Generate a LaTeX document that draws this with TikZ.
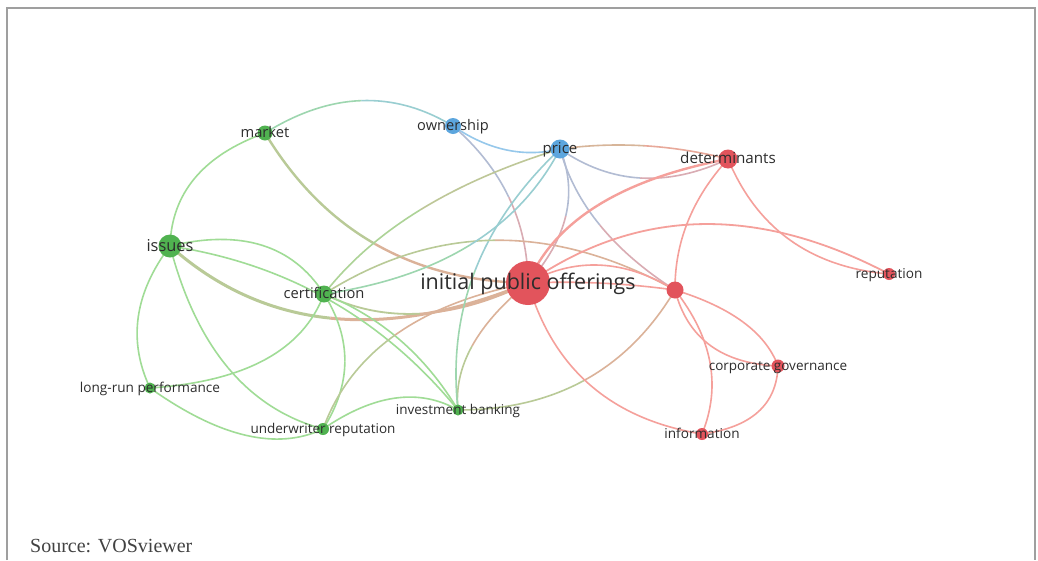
\documentclass[tikz,border=0pt]{standalone}
\usepackage{fontspec}
\setmainfont{Open Sans}
\newfontfamily\srcfont{Liberation Serif}
\usetikzlibrary{calc}
\definecolor{gL}{RGB}{160,220,150}
\definecolor{rL}{RGB}{245,160,155}
\definecolor{bL}{RGB}{150,200,235}
\colorlet{oL}{gL!50!rL}
\definecolor{gN}{RGB}{80,178,80}
\definecolor{rN}{RGB}{226,84,92}
\definecolor{bN}{RGB}{92,166,222}
\definecolor{txt}{RGB}{45,45,45}
\newcommand\fsz[1]{\fontsize{#1}{#1}\selectfont}
% link: [width]{a}{b}{shape point x,y}{colour at a}{colour at b}
% drawn as a quadratic curve, split in two halves for a colour change
\newcommand\lnk[6][1.6]{%
  \coordinate (ctl) at (#4);
  \coordinate (mab) at ($(#2)!0.5!(#3)$);
  \coordinate (q) at ($(mab)!1.5!(ctl)$);
  \coordinate (mid) at ($(mab)!0.5!(q)$);
  \coordinate (qa) at ($(#2)!0.5!(q)$);
  \coordinate (qb) at ($(#3)!0.5!(q)$);
  \draw[edge, line width=#1, draw=#5!70!#6] (#2) .. controls ($(#2)!0.6667!(qa)$) and ($(mid)!0.6667!(qa)$) .. (mid);
  \draw[edge, line width=#1, draw=#6!70!#5] (mid) .. controls ($(mid)!0.6667!(qb)$) and ($(#3)!0.6667!(qb)$) .. (#3);
}
\tikzset{
  edge/.style={line cap=butt},
  dot/.style={circle, inner sep=0pt, draw=none},
  gdot/.style={dot, fill=gN},
  rdot/.style={dot, fill=rN},
  bdot/.style={dot, fill=bN},
  lbl/.style={text=txt, inner sep=0pt, anchor=base},
}
\begin{document}
\begin{tikzpicture}[x=1pt,y=-1pt]
\fill[white] (0,0) rectangle (1038,560);
\useasboundingbox (0,0) rectangle (1038,560);
\draw[gray!75, line width=1.3] (7,560) -- (7,8) -- (1035,8) -- (1035,560);
% positions
\coordinate (market) at (265,133);
\coordinate (own) at (453,126);
\coordinate (price) at (560,149);
\coordinate (det) at (728,159);
\coordinate (issues) at (170,246);
\coordinate (cert) at (324,294);
\coordinate (ipo) at (528,283);
\coordinate (u) at (675,290);
\coordinate (rep) at (889,274);
\coordinate (lrp) at (150,388);
\coordinate (ib) at (458,410);
\coordinate (ur) at (323,429);
\coordinate (cg) at (778,366);
\coordinate (info) at (702,434);
% links
\lnk{market}{own}{362,91}{gL}{bL}
\lnk{own}{price}{506,154}{bL}{bL}
\lnk{own}{ipo}{515,195}{bL}{rL}
\lnk{market}{issues}{187.5,174}{gL}{gL}
\lnk[2.4]{market}{ipo}{368,256}{gL}{rL}
\lnk{issues}{cert}{267,237}{gL}{gL}
\lnk[3]{issues}{ipo}{324,336}{gL}{rL}
\lnk[1.8]{cert}{ipo}{418,322}{gL}{rL}
\lnk{issues}{lrp}{131,317}{gL}{gL}
\lnk{issues}{ur}{222,378}{gL}{gL}
\lnk{issues}{ib}{335,291}{gL}{gL}
\lnk{cert}{ib}{403,336}{gL}{gL}
\lnk{lrp}{ur}{248,444}{gL}{gL}
\lnk{lrp}{cert}{274,366}{gL}{gL}
\lnk{cert}{ur}{352,361.5}{gL}{gL}
\lnk{ur}{ib}{396.5,391}{gL}{gL}
\lnk{ur}{ipo}{385,328}{gL}{rL}
\lnk{ib}{ipo}{465,346}{gL}{rL}
\lnk{ib}{price}{464,267}{gL}{bL}
\lnk{ib}{u}{591,390}{gL}{rL}
\lnk{cert}{u}{493.5,223}{gL}{rL}
\lnk{cert}{price}{479,253}{gL}{bL}
\lnk{cert}{price}{413,206}{gL}{oL}
\lnk{price}{det}{644,143}{oL}{rL}
\lnk{price}{det}{639,186}{bL}{rL}
\lnk{price}{ipo}{573,216}{bL}{rL}
\lnk{price}{u}{594,227}{bL}{rL}
\lnk[2.4]{ipo}{det}{588,200}{rL}{rL}
\lnk[1.8]{ipo}{rep}{697,206}{rL}{rL}
\lnk{ipo}{u}{599.5,258}{rL}{rL}
\lnk{ipo}{u}{601,282}{rL}{rL}
\lnk{det}{u}{683.5,220}{rL}{rL}
\lnk{det}{rep}{784,248}{rL}{rL}
\lnk{u}{cg}{748.5,320}{rL}{rL}
\lnk{u}{cg}{704.5,351}{rL}{rL}
\lnk{u}{info}{717,362}{rL}{rL}
\lnk{ipo}{info}{582,394}{rL}{rL}
\lnk{cg}{info}{764,416}{rL}{rL}
% circles
\node[gdot, minimum size=15] (n-market) at (market) {};
\node[bdot, minimum size=16] (n-own) at (own) {};
\node[bdot, minimum size=19] (n-price) at (price) {};
\node[rdot, minimum size=19] (n-det) at (det) {};
\node[gdot, minimum size=23] (n-issues) at (issues) {};
\node[gdot, minimum size=17] (n-cert) at (cert) {};
\node[rdot, minimum size=44] (n-ipo) at (ipo) {};
\node[rdot, minimum size=17] (n-u) at (u) {};
\node[rdot, minimum size=12] (n-rep) at (rep) {};
\node[gdot, minimum size=11] (n-lrp) at (lrp) {};
\node[gdot, minimum size=11] (n-ib) at (ib) {};
\node[gdot, minimum size=12] (n-ur) at (ur) {};
\node[rdot, minimum size=13] (n-cg) at (cg) {};
\node[rdot, minimum size=12] (n-info) at (info) {};
% labels
\node[lbl, font=\fsz{14.7}] (l-market) at ($(market)+(0,4.5)$) {market};
\node[lbl, font=\fsz{14.6}] (l-own) at ($(own)+(0,4.5)$) {ownership};
\node[lbl, font=\fsz{15}] (l-price) at ($(price)+(0,4.7)$) {price};
\node[lbl, font=\fsz{15.2}] (l-det) at ($(det)+(0,4.8)$) {determinants};
\node[lbl, font=\fsz{16.4}] (l-issues) at ($(issues)+(0,5)$) {issues};
\node[lbl, font=\fsz{14.7}] (l-cert) at ($(cert)+(0,4.5)$) {certification};
\node[lbl, font=\fsz{21.5}] (l-ipo) at ($(ipo)+(0,6.5)$) {initial public offerings};
\node[lbl, font=\fsz{13.6}] (l-rep) at ($(rep)+(0,4.3)$) {reputation};
\node[lbl, font=\fsz{13.6}] (l-lrp) at ($(lrp)+(0,4.3)$) {long-run performance};
\node[lbl, font=\fsz{13.5}] (l-ib) at ($(ib)+(0,4.3)$) {investment banking};
\node[lbl, font=\fsz{13.5}] (l-ur) at ($(ur)+(0,4.3)$) {underwriter reputation};
\node[lbl, font=\fsz{13.5}] (l-cg) at ($(cg)+(0,4.3)$) {corporate governance};
\node[lbl, font=\fsz{13.6}] (l-info) at ($(info)+(0,4.3)$) {information};
% source
\node[text=txt!90, inner sep=0pt, anchor=base west, font=\srcfont\fsz{20}] (src) at (30,552) {Source: VOSviewer};
\end{tikzpicture}
\end{document}
